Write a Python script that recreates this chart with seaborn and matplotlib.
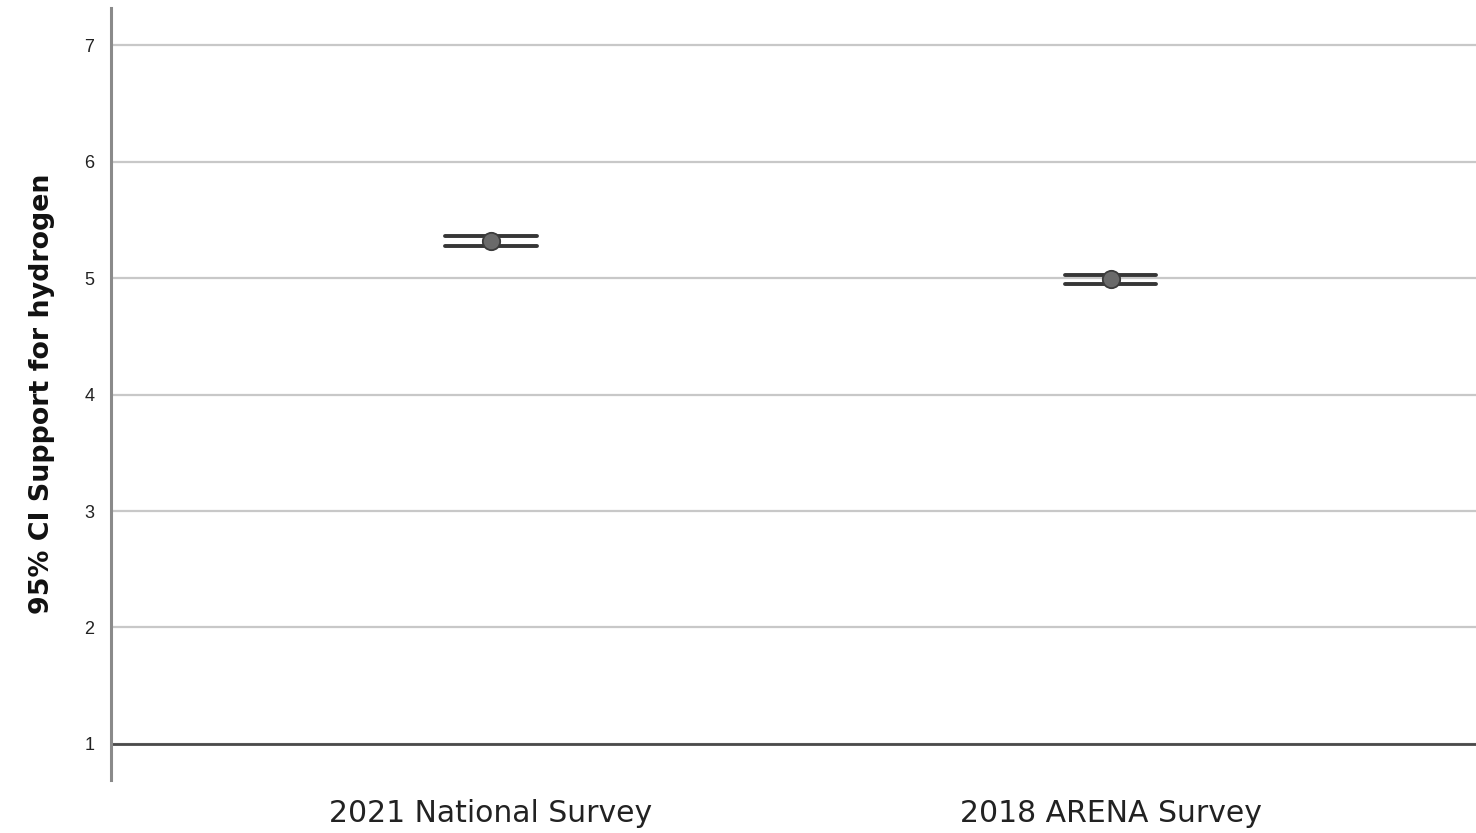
import matplotlib
matplotlib.use("Agg")
import matplotlib.pyplot as plt
import seaborn as sns
import pandas as pd

# Survey means with 95% confidence bounds for support for hydrogen
surveys = ["2021 National Survey", "2018 ARENA Survey"]
ci_lower = [5.275, 4.95]
means = [5.32, 4.99]
ci_upper = [5.36, 5.03]

# Long table: median of (lower, mean, upper) is the mean, 100% interval spans the CI
rows = []
for s, lo, m, hi in zip(surveys, ci_lower, means, ci_upper):
    for v in (lo, m, hi):
        rows.append({"survey": s, "value": v})
df = pd.DataFrame(rows)
df_means = pd.DataFrame({"survey": surveys, "value": means})

sns.set_theme(style="white")
plt.rcParams["font.family"] = ["Liberation Sans", "DejaVu Sans"]

fig = plt.figure(figsize=(14.76, 8.33), dpi=100)
ax = fig.add_axes([0.0752, 0.0636, 0.9248, 0.9268])

# Confidence interval caps
sns.pointplot(
    data=df, x="survey", y="value", order=surveys,
    estimator="median", errorbar=("pi", 100),
    linestyle="none", capsize=0.147, marker="",
    color="#363636", err_kws={"linewidth": 2.8},
    ax=ax,
)
# Mean markers
sns.stripplot(
    data=df_means, x="survey", y="value", order=surveys,
    jitter=False, size=12.5, color="#6a6a6a",
    edgecolor="#3c3c3c", linewidth=1.3, zorder=5, ax=ax,
)

ax.set_xlim(-0.613, 1.589)
ax.set_ylim(0.69, 7.32)
ax.set_yticks([1, 2, 3, 4, 5, 6, 7])
ax.yaxis.grid(True, color="#c8c8c8", linewidth=1.6)
ax.set_axisbelow(True)
ax.axhline(1, color="#4a4a4a", linewidth=2.0, zorder=1)

for side in ("top", "right", "bottom"):
    ax.spines[side].set_visible(False)
ax.spines["left"].set_color("#8a8a8a")
ax.spines["left"].set_linewidth(2.2)

ax.tick_params(axis="y", length=0, pad=12, labelsize=13, labelcolor="#222222")
ax.tick_params(axis="x", length=0, pad=14, labelcolor="#222222")
for lbl in ax.get_xticklabels():
    lbl.set_fontfamily("DejaVu Sans")
    lbl.set_fontsize(21.5)

ax.set_xlabel("")
ax.set_ylabel("95% CI Support for hydrogen", fontsize=19.4, fontweight="bold",
              fontfamily="DejaVu Sans", color="#111111", labelpad=21)

fig.savefig("out.png", dpi=100)
